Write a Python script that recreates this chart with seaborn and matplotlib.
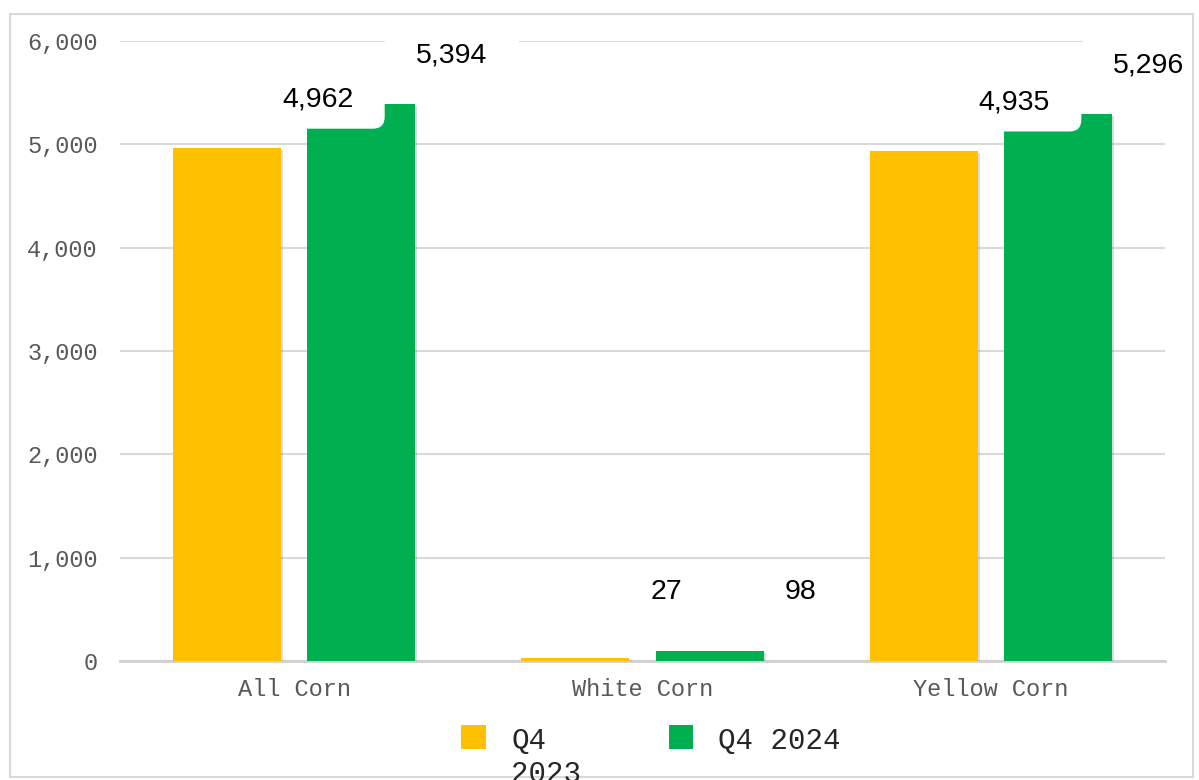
import numpy as np
import pandas as pd
import matplotlib
matplotlib.use("Agg")
import matplotlib.pyplot as plt
import matplotlib.patheffects as pe
from matplotlib.patches import FancyBboxPatch, Rectangle
from matplotlib.legend_handler import HandlerPatch
from matplotlib.ticker import FuncFormatter
import seaborn as sns

# données
categories = ["All Corn", "White Corn", "Yellow Corn"]
series = ["Q4\n2023", "Q4 2024\n"]
q4_2023 = [4962, 27, 4935]
q4_2024 = [5394, 98, 5296]
colors = ["#FFC000", "#00B050"]

df = pd.DataFrame({
    "category": categories * 2,
    "period": [series[0]] * 3 + [series[1]] * 3,
    "value": q4_2023 + q4_2024,
})

sns.set_style("white")
mono = ["Liberation Mono", "DejaVu Sans Mono"]
sans = ["Liberation Sans", "DejaVu Sans"]

fig = plt.figure(figsize=(11.99, 7.8), dpi=100)
ax = fig.add_axes([120 / 1199, 1 - 661 / 780, 1045 / 1199, 620 / 780])

sns.barplot(data=df, x="category", y="value", hue="period", palette=colors,
            width=0.77, gap=0.195, saturation=1, ax=ax, zorder=2, legend=False)

shadow = [pe.SimplePatchShadow(offset=(1.5, -1.5), shadow_rgbFace="#888888", alpha=0.3), pe.Normal()]
for bar in ax.patches:
    bar.set_edgecolor("none")
    bar.set_path_effects(shadow)

ax.set_xlim(-0.5, 2.5)
ax.set_ylim(0, 6000)
ax.set_yticks(range(0, 6001, 1000))
ax.yaxis.set_major_formatter(FuncFormatter(lambda v, p: f"{int(v):,}"))
ax.grid(axis="y", color="#D9D9D9", lw=1.5, zorder=0)
ax.set_axisbelow(True)
for s in ["top", "right", "left"]:
    ax.spines[s].set_visible(False)
ax.spines["bottom"].set_color("#D0D0D0")
ax.spines["bottom"].set_linewidth(2)
ax.spines["bottom"].set_zorder(1)
ax.tick_params(axis="both", length=0, labelsize=17, labelcolor="#595959")
ax.tick_params(axis="y", pad=16)
ax.tick_params(axis="x", pad=12)
for t in ax.get_xticklabels() + ax.get_yticklabels():
    t.set_fontfamily(mono)
ax.set_xlabel("")
ax.set_ylabel("")

# étiquettes dans des boîtes blanches de taille fixe
fig.canvas.draw()
values = q4_2023 + q4_2024
for bar, v in zip(ax.patches[:6], values):
    cx = bar.get_x() + bar.get_width() / 2 + 0.26
    cy = max(v, 200) + 470
    px, py = ax.transData.transform((cx, cy))
    box = FancyBboxPatch((px - 55, py - 17), 110, 34,
                         boxstyle="round,pad=12,rounding_size=12",
                         fc="white", ec="none", transform=None, zorder=3, clip_on=False)
    ax.add_artist(box)
    ax.text(cx, cy, f"{v:,}", ha="center", va="center", fontsize=20.5,
            family=sans, color="black", zorder=5, clip_on=False)


# carré aligné sur la première ligne du texte
def top_square(legend, orig_handle, xdescent, ydescent, width, height, fontsize):
    return Rectangle((-xdescent, -ydescent + 0.74 * fontsize), width, height)


handles = [Rectangle((0, 0), 1, 1, fc=c, ec="none") for c in colors]
leg = fig.legend(handles, series, loc="upper center", bbox_to_anchor=(0.543, 0.101),
                 ncol=2, frameon=False, handlelength=0.85, handleheight=0.85,
                 handletextpad=0.85, columnspacing=3.0,
                 handler_map={h: HandlerPatch(patch_func=top_square) for h in handles},
                 prop={"family": mono, "size": 21})
for t in leg.get_texts():
    t.set_color("#262626")

# cadre extérieur
fig.patches.append(Rectangle((10 / 1199, 3 / 780), 1183 / 1199, 763 / 780,
                             transform=fig.transFigure, fill=False,
                             ec="#D9D9D9", lw=1.5, zorder=0))

fig.savefig("out.png", dpi=100)
